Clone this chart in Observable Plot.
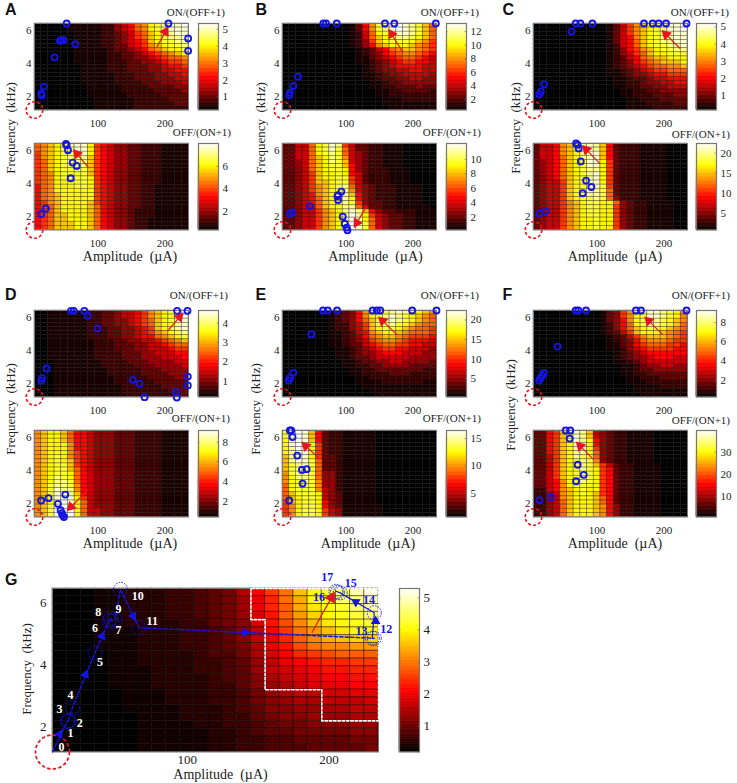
<!DOCTYPE html>
<html>
<head>
<meta charset="utf-8">
<script src="https://cdn.jsdelivr.net/npm/d3@7"></script>
<script src="https://cdn.jsdelivr.net/npm/@observablehq/plot@0.6"></script>
<style>
  body { margin: 0; background: white; }
  #fig { position: relative; width: 737px; height: 783px; overflow: hidden; font-family: "Liberation Serif", serif; color: #222; }
  #fig svg { position: absolute; max-width: none; }
  .lab { position: absolute; white-space: pre; line-height: 1; }
</style>
</head>
<body>
<div id="fig"></div>
<script>
// colour levels, top row first, one char per cell (hex, G is base 36)
const gridAOn = ["00000111112245689bcdeef","00000111112245689bcdeee","00000011112234578abcdee","00000011112234578abcdde","00000011112234567abccdd","000000111122335679abccd","0000001111123345689abbc","000000111112233456789ab","00000011111223344567889","00000011111222334456778","00000001111222333445667","00000001111222333445566","00000001111122233344556","00000001111122233344455","00000001111122223334445","00000000111112222333344","00000000111112222233334","00000000111111222223333","00000000011111122222333","00000000011111122222233","00000000011111122222222"]
const gridAOff = ["89abcdeeb76544332221111","89abcdeeb76544332221111","79abcddeb76544332221111","79abcddda76544332221111","78abcddda76544332221111","78abccdda76544332221111","78abccdca76544332221111","789bcccca76544332221111","789bccccb76544332221111","789bbcccb76544332221111","689bbbccb76544332211111","689bbbbbb76544332211111","689abbbbb76544332211111","689abbbbb76544332211111","679abbbba76544332211111","678abbbba86544332211111","678abbbba86544322211111","678aabbba86544322211111","678aabbba86544322111111","678aaabba86544322111111","678aaabba86544322111111"]
const gridBOn = ["00000000001369cdefedca8","00000000001369cdefedca8","00000000001258bcdeedca8","00000000001258abcddcba8","00000000001247abcccba97","000000000012469abbba987","000000000001235689aa987","00000000000123467899876","00000000000113456788765","00000000000112345677665","00000000000012345666655","00000000000012344556655","00000000000011234455554","00000000000011233445544","00000000000001123344444","00000000000001122333433","00000000000000112233332","00000000000000112222222","00000000000000011122222","00000000000000011111111","00000000000000001111111"]
const gridBOff = ["33558bced75332211100000","33558bcec85332211100000","33558bcdc85432211100000","33558abdc95432211100000","33458abdca5432211100000","33458abcca6432211100000","33458abccb6432221110000","33457abbcb6532221110000","33457abbcc7532221110000","33457aabcc7532221110000","334579abcd8543222111100","334579abcd9543222111100","334569abcda643222111100","334568abcdb643222111100","334568abcdc743322111100","334558abcdd853322111110","3345579abdeda6433222111","3345579abdfdb7543322111","3345579abdfeb8543322111","3345579abdfec8543322111","3345579abdfec8543322111"]
const gridCOn = ["0000000000013579abcdeef","0000000000013579abcdeef","0000000000013579abcdeee","0000000000013569abcddee","0000000000013568abcddee","0000000000012568abccdde","00000000000124679abccdd","00000000000124578abbccc","000000000001235689aabbb","0000000000012346789aaab","0000000000012345678899a","00000000000112345677888","00000000000112344566777","00000000000011233455666","00000000000011223445566","00000000000011223344555","00000000000001122334444","00000000000001122233344","00000000000000112223333","00000000000000111222233","00000000000000111122222"]
const gridCOff = ["35569abdeda632221111000","35569abdeda632221111000","35569abdeea632221111000","35568abdeea632221111000","34568abceeb732221111000","34568abceeb732221111000","34568abcddb732221111000","34568abcdeb732221111000","34568abcdeb732221111000","34557abcdeb732221111000","34557abcdec732221111000","34557abcddc832221111000","34557abcddc832221111000","34557abccdc842221111000","345579abccbb84322111100","345579abccbb74322111100","345579abccbb74322111100","345579abccbb74322111100","345579abbcbb74322111100","345579abbcbb74322111100","345579abbcbb74322111100"]
const gridDOn = ["001111112233455679abcef","001111112233455679abcef","001111112233445678abcde","001111112233445678abcde","001111112223344567abcde","0011111122233445679abcd","00111111222334456689abc","0011111112223344556789a","00111111122233344556788","00111111122233344555677","00111111122223334455566","00111111122223334445556","00011111112222333444455","00011111112222233344445","00011111111222223334444","00011111111222223333444","00011111111122222333344","00011111111122222233333","00011111111112222223333","00011111111112222222333","00011111111112222222233"]
const gridDOff = ["9abba866544433322221111","9abba866544433322221111","9abba866544433322221111","9abbb966544433322221111","9abbb966544433322221111","9abbb976544433322221111","9abcb976544433322221111","9abcba76544433322221111","9abcca76544433322221111","9abcca86544433322221111","9abccb86544433322221111","9abdcb86544433322221111","9abddc86544433322221111","9acddc96544433322221111","9acedd96544433322221111","9aceeda6544433322221111","9aceeeb7544433322221111","9acefeb8544433322221111","9acefeb8544433322221111","9acfffb8554433322221111","9acfffb8554433322221111"]
const gridEOn = ["0000000123469bccdedcba9","0000000123469bcdedcba98","0000000123468acdedcba98","0000000122457acddcba988","0000000122457abccba9887","00000001123569abba98887","000000011234689aa987776","00000001123457899876665","00000001123356788776655","00000000112345677665554","00000000112344566655544","00000000112334555554444","00000000011233445544443","00000000011223344443333","00000000001122333333322","00000000001122223332222","00000000000112222222222","00000000000111122222211","00000000000011111111111","00000000000001111111111","00000000000000111111111"]
const gridEOff = ["cefea632211111000000000","cefea632211111000000000","befea632211111000000000","befeb732211111000000000","bdfeb732211111000000000","bdeeb732211111000000000","adeeb733211111000000000","adeec833211111000000000","acdec833211111000000000","acddc833211111000000000","9cddc844211111000000000","9bddc844211111000000000","9bcdc944211111000000000","8bcdc944211111000000000","8bccc954211111000000000","8acccb54311111000000000","8abccb54311111000000000","7abccb64311111000000000","79bccb64311111100000000","79bccb75411111100000000","79bccb75411111100000000"]
const gridFOn = ["000000000013479bceedcb9","000000000013479bceedcb9","000000000013469bcddcba9","000000000012468bcddcba8","000000000012468abccba98","000000000012357abbba987","00000000000123579aaa987","00000000000123468999877","00000000000113467888776","00000000000112456777766","00000000000012345666666","00000000000012344566655","00000000000011234555555","00000000000001123445544","00000000000001123344444","00000000000001122333333","00000000000000112223333","00000000000000111222222","00000000000000011112222","00000000000000011111111","00000000000000001111111"]
const gridFOff = ["3367aceda54322111100000","3367aceda54322111100000","3367acedb64322111100000","3367abedb64322111100000","3367abddb74322111100000","3367abddb84322111100000","3357abdcb84322111100000","3357abcdc94322111100000","3357abcdca7532211110000","3357abcdcb7632211110000","3357abcdcb7632211110000","3357abcdcb7632211110000","33569bcdcb7632211110000","33569bccbb7632211110000","22569abcbb7632211110000","22459abcba7632211110000","22459abbba8632211110000","22458abbba8632211110000","22458abbba9642211110000","22458abbba9642211110000","22458abbba9642211110000"]
const gridG = ["00011222334569dgjnqsuwy","00011222334568cfjmqsuvx","00011222334568cfimprsuw","00011222334568beiloqrsu","00011222233567behknpqrs","00011122233457adgjlnpqr","00011122233457acfikmnoo","000111222334569cehjkkll","000011222234469bdfghiii","000011222233458acdeffgg","000011122233458abcdeeff","0000111222234579abcddee","00001112222335789abccdd","00000111222334689aabbcc","0000011122233467899aaab","000001111222345778899aa","00000011122233567788899","00000011112233456677788","00000011111223455666677","00000011111223344555566","00000011111223344455556"]
// what each hex level of the small panels stands for on the colour bar
const levelShare = [0,0.04,0.09,0.15,0.22,0.3,0.38,0.45,0.52,0.58,0.66,0.74,0.8,0.88,0.95,1]

// blue circles: amplitude (uA) and frequency (kHz)
const ampAOn = [53,205,234.5,234.5,66,45,48,43,35,19,15,16]
const freqAOn = [6.45,6.45,5.54,4.79,5.19,5.44,5.44,5.4,4.4,2.62,2.19,2.1]
const ampAOff = [52,53,55,62,68,59,22,15]
const freqAOff = [6.43,6.35,6.04,5.29,5.09,4.34,2.5,2.17]
const ampBOn = [66,70,86,158,172,234,28,21,16,15]
const freqBOn = [6.45,6.45,6.45,6.45,6.45,6.45,3.22,2.66,2.25,2.11]
const ampBOff = [16,20,46,93,88,87,88,95,98,101,102]
const freqBOff = [2.19,2.27,2.65,3.53,3.31,3.25,3.02,2.01,1.58,1.34,1.18]
const ampCOn = [62,68,75,93,170,183,192,203,233.5,21,16,13.5]
const freqCOn = [5.96,6.45,6.45,6.45,6.45,6.45,6.45,6.45,6.45,2.76,2.31,2.15]
const ampCOff = [68.6,71,72.5,75.6,83.5,91.4,78.5,23.4,14]
const freqCOff = [6.45,6.37,6.15,5.36,4.2,3.81,3.43,2.35,2.21]
const ampDOn = [59.6,63.6,79.5,84.5,99,23,16.4,15,152,162,169.4,216,217.6,233.5,218,234,234]
const freqDOn = [6.43,6.43,6.43,6.13,5.36,2.93,2.34,2.18,2.24,2,1.19,1.49,1.17,6.43,6.43,2.44,1.9]
const ampDOff = [15,26,51,40,44,46,47,49]
const freqDOff = [2.2,2.34,2.56,2,1.61,1.43,1.31,1.2]
const ampEOn = [65.6,72.6,86.5,139.6,146,151,198.7,235,48,21,16.4,14.4]
const freqEOn = [6.45,6.45,6.45,6.45,6.45,6.45,6.45,6.45,5,2.68,2.36,2.2]
const ampEOff = [16,18,20,27,34,41,35,15]
const freqEOff = [6.45,6.45,6.05,4.93,4.06,4.1,3.23,2.2]
const ampFOn = [68,72,83.5,158,165.5,233.5,41,20.4,18,15.4,13.4]
const freqFOn = [6.45,6.45,6.45,6.45,6.45,6.45,4.26,2.66,2.5,2.36,2.2]
const ampFOff = [53,60,59,71,80,68.6,31,14]
const freqFOff = [6.45,6.45,5.96,4.37,3.76,3.37,2.4,2.22]
const ampG = [5,15.4,16.5,16,19,35,45,46,47,49,53,66,232,230.6,232,208,205,206]
const freqG = [1.2,2.19,2.21,2.18,2.62,4.39,5.42,5.49,5.4,5.46,6.42,5.19,4.85,4.85,5.67,6.31,6.36,6.33]
const numberG = ["0","1","2","3","4","5","6","7","8","9","10","11","12","13","14","15","16","17"]
const numAmpG = [11.4,17.7,24.3,10,17.7,38.6,34.9,51.6,37.2,51.6,65.2,75.4,240.5,223,228.3,215.4,193,198.9]
const numFreqG = [1.37,1.79,2.13,2.57,3.02,4.09,5.19,5.1,5.69,5.8,6.21,5.4,5.13,5.08,6.08,6.63,6.18,6.81]
const headAmpG = [10,28.3,40,62,141,233,219]
const headFreqG = [1.77,3.69,4.92,5.56,5.04,5.4,6.02]
const headTurnG = [29,23,22,154,91,0,-59]
const edgeAmpG = [145,145,155,155,195,195,235,235,145]
const edgeFreqG = [6.45,5.45,5.45,3.2,3.2,2.2,2.2,6.45,6.45]

// red arrows: tail amp, tail freq, head amp, head freq
const arrowAOn = [188,5.03,202,6.08]
const arrowAOff = [85.5,4.99,66,5.94]
const arrowBOn = [185,4.69,165.5,5.96]
const arrowBOff = [131,2.65,114,1.5]
const arrowCOn = [224,4.93,200,5.9]
const arrowCOff = [104.3,5.23,81,6.2]
const arrowDOn = [204,5.22,224,6.17]
const arrowDOff = [84.5,2.83,56,1.67]
const arrowEOn = [175.4,5,151.5,5.94]
const arrowEOff = [60.6,4.71,37,5.62]
const arrowFOn = [197.7,5,174,5.94]
const arrowFOff = [94,4.71,72,5.62]
const arrowG = [188,5.03,203.6,6.31]

// colour bar ranges and ticks
const barAOn = [0.23,5.33], ticksAOn = [1,2,3,4,5]
const barAOff = [0.34,8.04], ticksAOff = [2,4,6]
const barBOn = [0.42,13.2], ticksBOn = [2,4,6,8,10,12]
const barBOff = [0.2,12.2], ticksBOff = [2,4,6,8,10]
const barCOn = [0.17,5.2], ticksCOn = [1,2,3,4,5]
const barCOff = [0.75,22.4], ticksCOff = [5,10,15,20]
const barDOn = [0.17,4.65], ticksDOn = [1,2,3,4]
const barDOff = [0.4,9.2], ticksDOff = [2,4,6,8]
const barEOn = [0.34,22.4], ticksEOn = [5,10,15,20]
const barEOff = [0.58,16.5], ticksEOff = [5,10,15]
const barFOn = [0.23,9.25], ticksFOn = [2,4,6,8]
const barFOff = [0.83,39.8], ticksFOff = [10,20,30]
const barG = [0.2,5.29], ticksG = [1,2,3,4,5]

const blue = "#1414e6", red = "#e8141c"
const fig = document.getElementById("fig")

// matlab "hot"
function hot(t) {
  const c = v => Math.round(255 * Math.max(0, Math.min(1, v)))
  return `rgb(${c(t / 0.375)},${c((t - 0.375) / 0.375)},${c((t - 0.75) / 0.25)})`
}
const colorScale = {type: "linear", domain: [0, 1], interpolate: hot}

function place(svg, left, top) {
  svg.style.left = left + "px"
  svg.style.top = top + "px"
  fig.append(svg)
}

function label(text, x, y, css, transform) {
  const el = document.createElement("div")
  el.className = "lab"
  el.textContent = text
  el.style.cssText = `left:${x}px;top:${y}px;transform:${transform};${css}`
  fig.append(el)
}

function cells(grid, share) {
  return grid.flatMap((row, i) => Array.from(row, (c, j) => ({
    amp: 10 + 10 * j,
    freq: 6.325 - 0.25 * i,
    v: share(parseInt(c, 36))
  })))
}

function redArrow(a, kx, ky, r) {
  const turn = Math.atan2((a[2] - a[0]) * kx, (a[3] - a[1]) * ky) * 180 / Math.PI
  return [
    Plot.link([a], {x1: d => d[0], y1: d => d[1], x2: d => d[2], y2: d => d[3], stroke: red, strokeWidth: 1.2}),
    Plot.dot([a], {x: d => d[2] - (d[2] - d[0]) * 0.12, y: d => d[3] - (d[3] - d[1]) * 0.12, symbol: "triangle", r, fill: red, rotate: turn})
  ]
}

function colorBar(left, top, h, range, ticks, size) {
  const [lo, hi] = range
  const levels = d3.range(64)
  place(Plot.plot({
    width: 50, height: h + 8,
    marginLeft: 2, marginRight: 28, marginTop: 4, marginBottom: 4,
    x: {domain: [0, 1], axis: null},
    y: {domain: [lo, hi], ticks, tickFormat: d => d, axis: "right", tickSize: 0, tickPadding: 4, label: null},
    color: colorScale,
    style: {background: "none", fontFamily: "Liberation Serif", fontSize: size + "px", color: "#222"},
    marks: [
      Plot.rect(levels, {x1: 0, x2: 1, y1: i => lo + (hi - lo) * i / 64, y2: i => lo + (hi - lo) * (i + 1) / 64, fill: i => (i + 0.5) / 64, stroke: i => (i + 0.5) / 64, strokeWidth: 0.6}),
      Plot.ruleY(ticks, {x1: 0, x2: 0.07, stroke: "#666", strokeWidth: 0.7}),
      Plot.ruleY(ticks, {x1: 0.93, x2: 1, stroke: "#666", strokeWidth: 0.7}),
      Plot.frame({stroke: "#777", strokeWidth: 1.2})
    ]
  }), left - 2, top - 4)
}

function smallPanel(grid, amps, freqs, arrow, range, ticks, left, top, barLeft) {
  const w = 154, h = 86.5
  const ml = 30, mr = 8, mt = 14, mb = 26
  place(Plot.plot({
    width: w + ml + mr, height: h + mt + mb,
    marginLeft: ml, marginRight: mr, marginTop: mt, marginBottom: mb,
    x: {domain: [5, 235], ticks: [100, 200], tickFormat: d => d, tickSize: 0, tickPadding: 9, label: null},
    y: {domain: [1.2, 6.45], ticks: [2, 4, 6], tickFormat: d => d, tickSize: 0, tickPadding: 3, label: null},
    color: colorScale,
    style: {background: "none", fontFamily: "Liberation Serif", fontSize: "11px", color: "#222"},
    marks: [
      Plot.rect(cells(grid, l => levelShare[l]), {x1: d => d.amp - 5, x2: d => d.amp + 5, y1: d => d.freq - 0.125, y2: d => d.freq + 0.125, fill: "v", stroke: "#000", strokeOpacity: 0.45, strokeWidth: 0.7}),
      Plot.frame({stroke: "#777", strokeWidth: 1}),
      Plot.dot([0], {x: 5, y: 1.2, r: 8.3, stroke: red, strokeWidth: 1.6, strokeDasharray: "3,2.2"}),
      ...redArrow(arrow, w / 230, h / 5.25, 4),
      Plot.dot(amps, {x: amps, y: freqs, r: 3, stroke: blue, strokeWidth: 1.8})
    ]
  }), left - ml, top - mt)
  colorBar(barLeft, top, h, range, ticks, 11)
}

// rows of small panels
const tops = [22.7, 142.7, 309.5, 429.7]
const lefts = [33.5, 281.7, 532.6]
const barLefts = [197.8, 446, 696.3]
smallPanel(gridAOn, ampAOn, freqAOn, arrowAOn, barAOn, ticksAOn, lefts[0], tops[0], barLefts[0])
smallPanel(gridAOff, ampAOff, freqAOff, arrowAOff, barAOff, ticksAOff, lefts[0], tops[1], barLefts[0])
smallPanel(gridBOn, ampBOn, freqBOn, arrowBOn, barBOn, ticksBOn, lefts[1], tops[0], barLefts[1])
smallPanel(gridBOff, ampBOff, freqBOff, arrowBOff, barBOff, ticksBOff, lefts[1], tops[1], barLefts[1])
smallPanel(gridCOn, ampCOn, freqCOn, arrowCOn, barCOn, ticksCOn, lefts[2], tops[0], barLefts[2])
smallPanel(gridCOff, ampCOff, freqCOff, arrowCOff, barCOff, ticksCOff, lefts[2], tops[1], barLefts[2])
smallPanel(gridDOn, ampDOn, freqDOn, arrowDOn, barDOn, ticksDOn, lefts[0], tops[2], barLefts[0])
smallPanel(gridDOff, ampDOff, freqDOff, arrowDOff, barDOff, ticksDOff, lefts[0], tops[3], barLefts[0])
smallPanel(gridEOn, ampEOn, freqEOn, arrowEOn, barEOn, ticksEOn, lefts[1], tops[2], barLefts[1])
smallPanel(gridEOff, ampEOff, freqEOff, arrowEOff, barEOff, ticksEOff, lefts[1], tops[3], barLefts[1])
smallPanel(gridFOn, ampFOn, freqFOn, arrowFOn, barFOn, ticksFOn, lefts[2], tops[2], barLefts[2])
smallPanel(gridFOff, ampFOff, freqFOff, arrowFOff, barFOff, ticksFOff, lefts[2], tops[3], barLefts[2])

// panel G
{
  const w = 326, h = 163.5
  const ml = 50, mr = 14, mt = 26, mb = 26
  const iSplit = 14
  place(Plot.plot({
    width: w + ml + mr, height: h + mt + mb,
    marginLeft: ml, marginRight: mr, marginTop: mt, marginBottom: mb,
    x: {domain: [5, 235], ticks: [100, 200], tickFormat: d => d, tickSize: 0, tickPadding: 3, label: null},
    y: {domain: [1.2, 6.45], ticks: [2, 4, 6], tickFormat: d => d, tickSize: 0, tickPadding: 6, label: null},
    color: colorScale,
    style: {background: "none", fontFamily: "Liberation Serif", fontSize: "13px", color: "#222"},
    marks: [
      Plot.rect(cells(gridG, l => l / 35), {x1: d => d.amp - 5, x2: d => d.amp + 5, y1: d => d.freq - 0.125, y2: d => d.freq + 0.125, fill: "v", stroke: "#000", strokeOpacity: 0.5, strokeWidth: 0.9}),
      Plot.frame({stroke: "#777", strokeWidth: 1}),
      Plot.line(edgeAmpG, {x: edgeAmpG, y: edgeFreqG, stroke: "white", strokeWidth: 1.6, strokeDasharray: "2.5,1.8"}),
      Plot.dot([0], {x: 5, y: 1.2, r: 17, stroke: red, strokeWidth: 1.7, strokeDasharray: "3.5,2.2"}),
      Plot.line(ampG.slice(0, iSplit), {x: ampG.slice(0, iSplit), y: freqG.slice(0, iSplit), stroke: blue, strokeWidth: 1.4, strokeDasharray: "3.5,2"}),
      Plot.line(ampG.slice(iSplit - 1, 17), {x: ampG.slice(iSplit - 1, 17), y: freqG.slice(iSplit - 1, 17), stroke: blue, strokeWidth: 1.2}),
      Plot.dot(ampG.slice(1), {x: ampG.slice(1), y: freqG.slice(1), r: 7, stroke: blue, strokeWidth: 0.9, strokeDasharray: "1.6,1.2"}),
      Plot.dot(headAmpG, {x: headAmpG, y: headFreqG, symbol: "triangle", r: 3.6, fill: blue, rotate: headTurnG}),
      ...redArrow(arrowG, w / 230, h / 5.25, 4.5),
      Plot.text(numberG, {x: numAmpG, y: numFreqG, text: numberG, fontWeight: "bold", fontSize: 12, fill: (d, i) => i < 12 ? "white" : blue})
    ]
  }), 52 - ml, 587.5 - mt)
  colorBar(399, 587.5, h, barG, ticksG, 13)
}

// text round the panels
const letters = ["A", "B", "C", "D", "E", "F", "G"]
const letterX = [5, 255.5, 502.5, 5, 255.5, 502.5, 5]
const letterY = [10, 10, 10, 295, 295, 295, 580]
letters.forEach((t, i) => label(t, letterX[i], letterY[i], "font:bold 16px 'Liberation Sans';color:#111", "translateY(-50%)"))

const ratioOn = "ON/(OFF+1)", ratioOff = "OFF/(ON+1)"
const ratioX = [[225, 231], [479, 481], [729, 730], [228, 230], [479, 481], [730, 730]]
const ratioY = [[12, 132], [12, 132], [12, 134], [295, 418], [295, 418], [295, 420]]
ratioX.forEach((xs, i) => {
  label(ratioOn, xs[0], ratioY[i][0], "font-size:11px", "translate(-100%,-50%)")
  label(ratioOff, xs[1], ratioY[i][1], "font-size:11px", "translate(-100%,-50%)")
})

const ampLabel = "Amplitude  (\u00b5A)", freqLabel = "Frequency  (kHz)"
const ampLabelX = [130, 375.5, 615, 130, 368, 615, 220.5]
const ampLabelY = [257, 257, 257, 544, 544, 544, 775]
ampLabelX.forEach((x, i) => label(ampLabel, x, ampLabelY[i], "font-size:14px", "translate(-50%,-50%)"))
const freqLabelX = [9.5, 259.5, 515, 9.5, 255, 510, 25.5]
const freqLabelY = [128, 128, 128, 409, 409, 405, 669]
freqLabelX.forEach((x, i) => label(freqLabel, x, freqLabelY[i], "font-size:13px", "translate(-50%,-50%) rotate(-90deg)"))
</script>
</body>
</html>
